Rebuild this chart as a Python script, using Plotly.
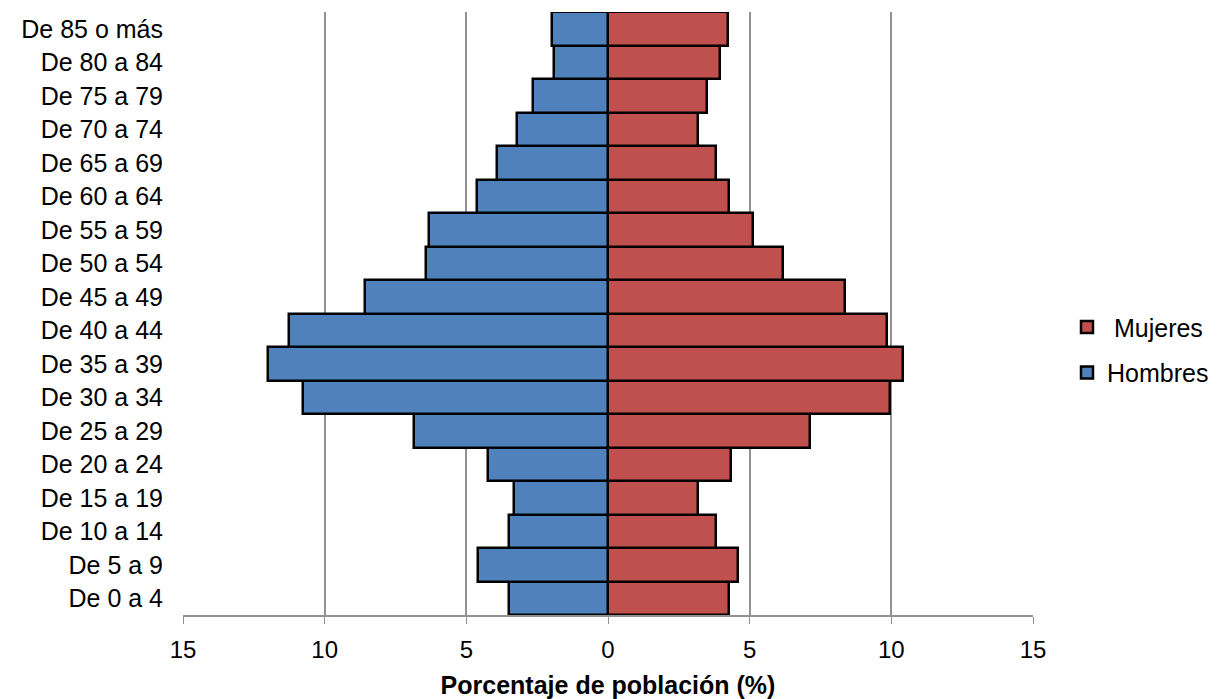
import plotly.graph_objects as go

categorias = ["De 0 a 4", "De 5 a 9", "De 10 a 14", "De 15 a 19", "De 20 a 24", "De 25 a 29",
              "De 30 a 34", "De 35 a 39", "De 40 a 44", "De 45 a 49", "De 50 a 54", "De 55 a 59",
              "De 60 a 64", "De 65 a 69", "De 70 a 74", "De 75 a 79", "De 80 a 84", "De 85 o más"]
hombres = [3.51, 4.60, 3.51, 3.33, 4.25, 6.84, 10.75, 12.0, 11.27, 8.57, 6.44, 6.33,
           4.61, 3.93, 3.21, 2.64, 1.90, 1.97]
mujeres = [4.27, 4.58, 3.80, 3.19, 4.33, 7.14, 9.94, 10.40, 9.84, 8.35, 6.18, 5.13,
           4.27, 3.80, 3.19, 3.51, 3.94, 4.24]
tick_vals = [-15, -10, -5, 0, 5, 10, 15]
tick_text = ["15", "10", "5", "0", "5", "10", "15"]

fig = go.Figure()
fig.add_trace(go.Bar(
    y=categorias, x=mujeres, orientation="h", name=" Mujeres", legendgroup="m",
    marker=dict(color="#C0504D", line=dict(color="black", width=2.5)),
))
fig.add_trace(go.Bar(
    y=categorias, x=[-v for v in hombres], orientation="h", name="Hombres", legendgroup="h",
    marker=dict(color="#4F81BD", line=dict(color="black", width=2.5)),
))

fig.update_layout(
    width=1220, height=699,
    barmode="relative", bargap=0,
    plot_bgcolor="white", paper_bgcolor="white",
    margin=dict(l=175, r=195, t=4, b=92),
    font=dict(family="Liberation Sans, Arial, sans-serif", size=24, color="black"),
    xaxis=dict(
        range=[-15, 15], tickvals=tick_vals, ticktext=tick_text,
        showgrid=True, gridcolor="#929292", gridwidth=1.5,
        zeroline=True, zerolinecolor="#929292", zerolinewidth=1.5,
        showline=True, linecolor="#929292", linewidth=1.5,
        ticks="outside", ticklen=7, tickcolor="#929292",
        tickfont=dict(size=24), ticklabelstandoff=5,
        title=dict(text="<b>Porcentaje de población (%)</b>", font=dict(size=25), standoff=15),
    ),
    yaxis=dict(
        showgrid=False, showline=False, ticks="",
        tickfont=dict(size=25), ticklabelstandoff=19,
    ),
    legend=dict(x=1.04, y=0.44, xanchor="left", yanchor="middle",
                font=dict(size=25), traceorder="grouped", tracegroupgap=10,
                itemwidth=30),
)

fig.write_html("out.html")
